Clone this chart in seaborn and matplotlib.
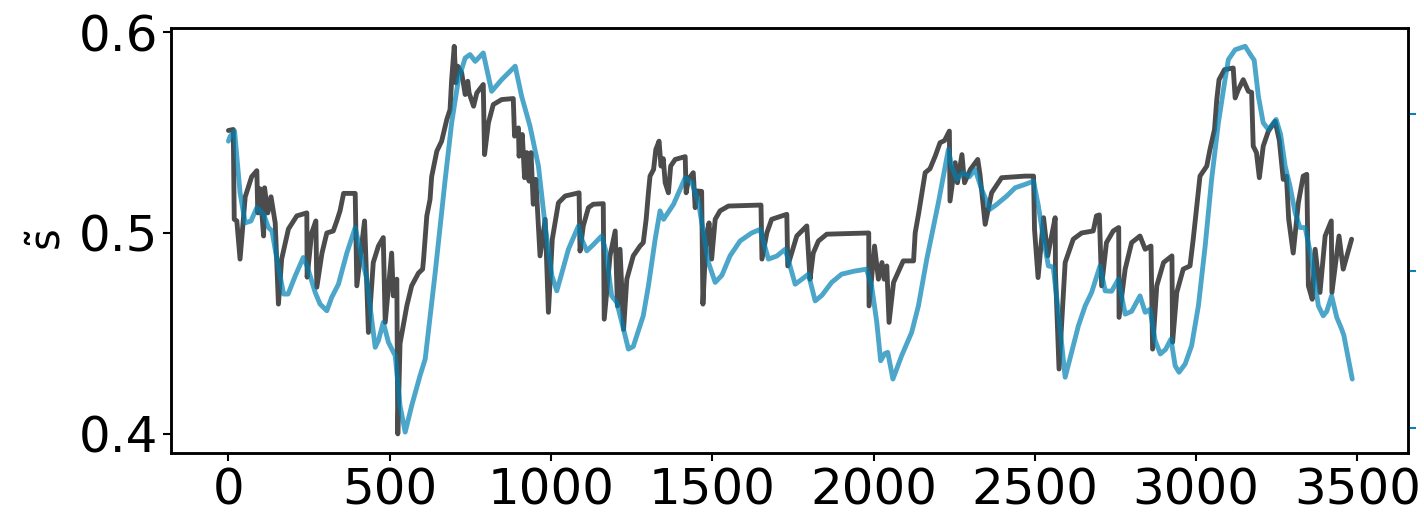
import numpy as np
import pandas as pd
import matplotlib
matplotlib.use('Agg')
import matplotlib.pyplot as plt
import seaborn as sns

# grey series
gray_x = [0, 15, 18, 26, 36, 52, 72, 88, 91, 98, 109, 112, 122, 132, 145, 155, 165, 186, 212, 243,
          244, 258, 271, 274, 290, 305, 325, 336, 346, 357, 393, 398, 422, 434, 449, 465, 480, 486, 506, 511,
          522, 525, 532, 553, 568, 589, 602, 605, 615, 625, 630, 646, 661, 677, 687, 692, 700, 705, 711, 723,
          734, 742, 746, 760, 770, 790, 794, 806, 821, 847, 883, 887, 899, 901, 911, 918, 925, 932, 938, 945,
          953, 966, 982, 992, 1004, 1023, 1044, 1087, 1090, 1100, 1116, 1131, 1162, 1165, 1183, 1199, 1206, 1214, 1225, 1235,
          1255, 1276, 1286, 1295, 1302, 1307, 1318, 1325, 1335, 1341, 1348, 1354, 1364, 1371, 1385, 1416, 1419, 1426, 1441, 1447,
          1454, 1467, 1471, 1481, 1490, 1498, 1509, 1524, 1550, 1651, 1654, 1669, 1684, 1731, 1734, 1762, 1793, 1803, 1813, 1829,
          1855, 1985, 1986, 2003, 2015, 2026, 2033, 2041, 2048, 2062, 2092, 2124, 2129, 2140, 2160, 2175, 2191, 2206, 2220, 2235,
          2237, 2253, 2260, 2274, 2282, 2300, 2323, 2330, 2346, 2366, 2397, 2470, 2496, 2499, 2510, 2527, 2540, 2550, 2563, 2564,
          2575, 2594, 2619, 2645, 2681, 2691, 2700, 2707, 2722, 2743, 2760, 2761, 2780, 2800, 2826, 2842, 2860, 2865, 2878, 2899,
          2925, 2927, 2940, 2960, 2981, 2991, 3002, 3012, 3033, 3043, 3057, 3064, 3071, 3088, 3115, 3121, 3130, 3146, 3162, 3172,
          3177, 3187, 3196, 3208, 3224, 3245, 3258, 3270, 3280, 3287, 3301, 3317, 3332, 3343, 3348, 3360, 3369, 3376, 3384, 3400,
          3419, 3421, 3443, 3456, 3482]
gray_y = [0.551, 0.5515, 0.5068, 0.506, 0.487, 0.518, 0.528, 0.531, 0.510, 0.522, 0.4985, 0.5225, 0.510, 0.518, 0.505, 0.4646, 0.487, 0.502, 0.5085, 0.510,
          0.478, 0.500, 0.506, 0.473, 0.490, 0.500, 0.501, 0.506, 0.511, 0.5197, 0.5197, 0.4737, 0.506, 0.4505, 0.4853, 0.4935, 0.4977, 0.4555, 0.490, 0.4687,
          0.477, 0.400, 0.445, 0.4637, 0.4737, 0.480, 0.482, 0.487, 0.5085, 0.5167, 0.528, 0.5407, 0.5457, 0.5565, 0.5614, 0.5763, 0.5929, 0.5747, 0.583, 0.5797,
          0.5689, 0.5755, 0.5697, 0.5631, 0.5697, 0.5739, 0.539, 0.5548, 0.5639, 0.5664, 0.5669, 0.5482, 0.5523, 0.5382, 0.549, 0.5275, 0.540, 0.5258, 0.540, 0.5143,
          0.5267, 0.4886, 0.5068, 0.4605, 0.4969, 0.515, 0.5184, 0.520, 0.491, 0.5035, 0.5126, 0.5143, 0.5146, 0.4571, 0.4886, 0.501, 0.4637, 0.4919, 0.452, 0.477,
          0.4886, 0.4935, 0.4952, 0.5068, 0.520, 0.5283, 0.5316, 0.5416, 0.5457, 0.5333, 0.537, 0.525, 0.520, 0.5333, 0.5366, 0.538, 0.520, 0.5267, 0.530, 0.5126,
          0.5209, 0.5207, 0.4646, 0.4985, 0.505, 0.487, 0.5068, 0.511, 0.5134, 0.5139, 0.487, 0.500, 0.5068, 0.5093, 0.4836, 0.4985, 0.5035, 0.477, 0.490, 0.496,
          0.4994, 0.500, 0.4637, 0.4935, 0.477, 0.4853, 0.477, 0.4836, 0.4555, 0.4754, 0.4861, 0.4861, 0.500, 0.510, 0.530, 0.532, 0.5382, 0.5449, 0.546, 0.5507,
          0.5159, 0.535, 0.525, 0.539, 0.525, 0.5316, 0.5366, 0.529, 0.5043, 0.520, 0.5275, 0.5283, 0.5283, 0.5018, 0.4778, 0.5076, 0.4886, 0.497, 0.5076, 0.480,
          0.4323, 0.4853, 0.4969, 0.500, 0.501, 0.5085, 0.509, 0.4737, 0.4952, 0.501, 0.5027, 0.458, 0.482, 0.4952, 0.4985, 0.4919, 0.4935, 0.4422, 0.4737, 0.4853,
          0.4886, 0.4456, 0.4704, 0.482, 0.4836, 0.4969, 0.5134, 0.5283, 0.5333, 0.5416, 0.5515, 0.5664, 0.5763, 0.5813, 0.5821, 0.5672, 0.571, 0.5763, 0.5705, 0.570,
          0.5432, 0.540, 0.5275, 0.5432, 0.5507, 0.5556, 0.546, 0.5267, 0.5283, 0.5068, 0.490, 0.5151, 0.5283, 0.5292, 0.4737, 0.467, 0.4919, 0.482, 0.4704, 0.4985,
          0.506, 0.4704, 0.4985, 0.482, 0.4969]

# blue series
blue_x = [0, 5, 19, 36, 52, 70, 88, 109, 124, 135, 150, 171, 185, 207, 232, 245, 269, 284, 305, 320,
          341, 367, 393, 414, 429, 439, 455, 465, 480, 496, 517, 532, 548, 568, 594, 610, 641, 672, 692, 713,
          734, 749, 765, 790, 816, 847, 889, 909, 935, 961, 982, 1003, 1018, 1034, 1054, 1085, 1095, 1111, 1130, 1157,
          1170, 1188, 1204, 1225, 1240, 1255, 1286, 1302, 1323, 1338, 1349, 1380, 1400, 1416, 1437, 1457, 1473, 1488, 1509, 1530,
          1555, 1586, 1622, 1648, 1660, 1674, 1700, 1726, 1741, 1757, 1778, 1798, 1819, 1840, 1870, 1901, 1940, 1978, 1994, 2010,
          2022, 2035, 2044, 2060, 2087, 2118, 2139, 2165, 2201, 2232, 2242, 2258, 2278, 2297, 2315, 2335, 2361, 2380, 2413, 2439,
          2470, 2496, 2511, 2527, 2542, 2557, 2573, 2594, 2614, 2635, 2656, 2676, 2702, 2718, 2738, 2759, 2780, 2800, 2826, 2842,
          2857, 2873, 2889, 2905, 2922, 2935, 2947, 2966, 2986, 3007, 3028, 3048, 3069, 3088, 3100, 3121, 3152, 3168, 3180, 3193,
          3208, 3224, 3248, 3262, 3276, 3291, 3307, 3322, 3338, 3358, 3379, 3394, 3405, 3420, 3436, 3451, 3458, 3484]
blue_y = [0.5457, 0.548, 0.5507, 0.520, 0.505, 0.506, 0.5126, 0.5093, 0.5027, 0.501, 0.487, 0.4696, 0.4696, 0.4786, 0.4878, 0.483, 0.4704, 0.4646, 0.4613, 0.4679,
          0.4745, 0.490, 0.5027, 0.487, 0.477, 0.4637, 0.4431, 0.4465, 0.4555, 0.4456, 0.4389, 0.414, 0.4009, 0.414, 0.429, 0.4373, 0.4803, 0.5267, 0.5548, 0.5763,
          0.5871, 0.5888, 0.5854, 0.5896, 0.5705, 0.5763, 0.583, 0.568, 0.5531, 0.5333, 0.5035, 0.4786, 0.4712, 0.4803, 0.4919, 0.5035, 0.497, 0.4911, 0.494, 0.4985,
          0.491, 0.4687, 0.4654, 0.452, 0.4422, 0.4435, 0.4588, 0.4737, 0.4969, 0.511, 0.5068, 0.5143, 0.5217, 0.5275, 0.525, 0.5151, 0.500, 0.4853, 0.4754, 0.479,
          0.4886, 0.496, 0.500, 0.5018, 0.495, 0.487, 0.4885, 0.4919, 0.4836, 0.4745, 0.477, 0.4795, 0.4662, 0.469, 0.4754, 0.4795, 0.481, 0.482, 0.4737, 0.4555,
          0.4364, 0.440, 0.4406, 0.4273, 0.4389, 0.4505, 0.4637, 0.487, 0.5151, 0.5416, 0.5333, 0.5267, 0.530, 0.528, 0.5316, 0.5217, 0.5118, 0.514, 0.5184, 0.5225,
          0.5242, 0.5258, 0.5134, 0.4969, 0.4836, 0.483, 0.4605, 0.4282, 0.4406, 0.4538, 0.4637, 0.4704, 0.4836, 0.4712, 0.471, 0.477, 0.4596, 0.461, 0.4687, 0.4605,
          0.462, 0.4464, 0.4398, 0.442, 0.4472, 0.4339, 0.4307, 0.4348, 0.4439, 0.4637, 0.4935, 0.5267, 0.5548, 0.5747, 0.5863, 0.5912, 0.5929, 0.5888, 0.586, 0.568,
          0.5548, 0.5515, 0.5565, 0.549, 0.5333, 0.5233, 0.5101, 0.5027, 0.5027, 0.487, 0.4637, 0.4588, 0.461, 0.4687, 0.458, 0.4522, 0.449, 0.4273]

sns.set_style('ticks')
plt.rcParams['font.family'] = ['DejaVu Sans']
plt.rcParams['mathtext.default'] = 'regular'
plt.rcParams['text.color'] = 'black'
plt.rcParams['xtick.color'] = 'black'
plt.rcParams['ytick.color'] = 'black'
plt.rcParams['axes.labelcolor'] = 'black'

fig = plt.figure(figsize=(14.24, 5.17), dpi=100)
ax = fig.add_axes([0.1201, 0.1238, 0.8687, 0.822])

sns.lineplot(x=gray_x, y=gray_y, ax=ax, color='black', alpha=0.7, lw=3.5,
             estimator=None, sort=False)
sns.lineplot(x=blue_x, y=blue_y, ax=ax, color='#0080b4', alpha=0.7, lw=3.5,
             estimator=None, sort=False)

ax.set_xlim(-178, 3657)
ax.set_ylim(0.3905, 0.602)
ax.set_xticks([0, 500, 1000, 1500, 2000, 2500, 3000, 3500])
ax.set_yticks([0.4, 0.5, 0.6])
ax.set_yticklabels(['0.4', '0.5', '0.6'])
ax.tick_params(labelsize=36, length=6, width=1.5, color='black', labelcolor='black')
ax.set_ylabel('$\\tilde{s}$', fontsize=30, labelpad=6)
for sp in ax.spines.values():
    sp.set_linewidth(1.8)
    sp.set_color('black')

# right hand axis (its labels fall outside the canvas)
ax2 = ax.twinx()
ax2.set_ylim(0.841, 3.548)
ax2.set_yticks([1, 2, 3])
ax2.tick_params(axis='y', colors='#0a7fb8', length=6, width=1.5, labelright=False)
for sp in ax2.spines.values():
    sp.set_linewidth(1.8)
    sp.set_color('black')

fig.savefig('out.png', dpi=100)
